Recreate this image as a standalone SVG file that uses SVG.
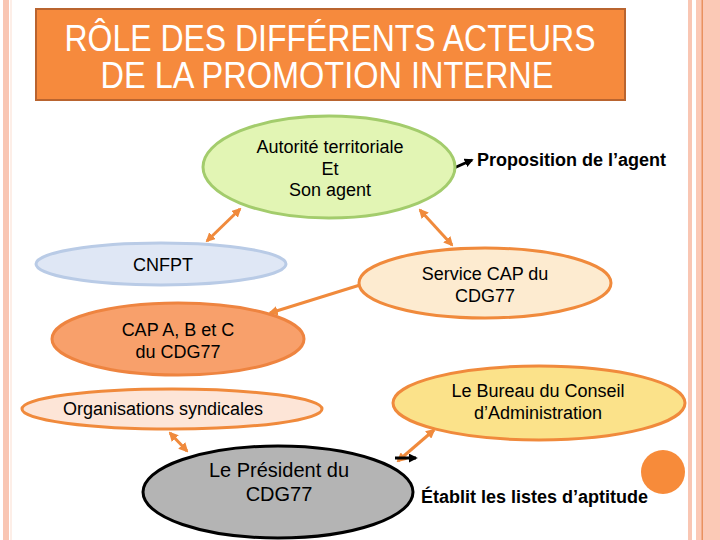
<svg xmlns="http://www.w3.org/2000/svg" width="720" height="540" viewBox="0 0 720 540">
  <style>
    .t { font-family: "Liberation Sans", Arial, sans-serif; font-size: 18px; fill: #000; text-anchor: middle; }
    .b { font-family: "Liberation Sans", Arial, sans-serif; font-size: 18px; font-weight: bold; fill: #000; }
    .title { font-family: "Liberation Sans", Arial, sans-serif; font-size: 36px; fill: #fff; text-anchor: middle; }
    .oc { stroke: #f08a3c; stroke-width: 3; fill: none; }
    .bc { stroke: #000; stroke-width: 3; fill: none; }
  </style>
  <defs>
    <marker id="ao" viewBox="0 0 10 10" refX="8" refY="5" markerWidth="3.2" markerHeight="3.2" orient="auto-start-reverse">
      <path d="M0,0 L10,5 L0,10 z" fill="#f08a3c"/>
    </marker>
    <marker id="ab" viewBox="0 0 10 10" refX="8" refY="5" markerWidth="3" markerHeight="3" orient="auto">
      <path d="M0,0 L10,5 L0,10 z" fill="#000"/>
    </marker>
  </defs>

  <rect x="0" y="0" width="720" height="540" fill="#fff"/>
  <!-- border stripes -->
  <rect x="3" y="0" width="6" height="540" fill="#f9c6b3"/>
  <rect x="10" y="0" width="2" height="540" fill="#fdeee7"/>
  <rect x="688" y="0" width="4" height="540" fill="#f9c6b3"/>
  <rect x="696" y="0" width="24" height="540" fill="#fbc9b6"/>
  <rect x="701.5" y="0" width="1.5" height="540" fill="#e9915f"/>

  <g id="title">
    <rect x="36" y="9" width="589" height="91" fill="#f68a3d" stroke="#b9642f" stroke-width="2"/>
    <text class="title" x="330" y="51" textLength="531" lengthAdjust="spacingAndGlyphs">RÔLE DES DIFFÉRENTS ACTEURS</text>
    <text class="title" x="327" y="88" textLength="453" lengthAdjust="spacingAndGlyphs">DE LA PROMOTION INTERNE</text>
  </g>

  <g id="connectors">
    <line class="oc" x1="240" y1="209" x2="207" y2="241" marker-start="url(#ao)" marker-end="url(#ao)"/>
    <line class="oc" x1="420" y1="210" x2="452" y2="245" marker-start="url(#ao)" marker-end="url(#ao)"/>
    <line class="oc" x1="360" y1="285" x2="270" y2="313" marker-end="url(#ao)"/>
    <line class="oc" x1="170" y1="433" x2="187" y2="451" marker-start="url(#ao)" marker-end="url(#ao)"/>
    <line class="oc" x1="398" y1="461" x2="434" y2="430" marker-start="url(#ao)" marker-end="url(#ao)"/>
    <line class="bc" x1="454" y1="168" x2="472" y2="160" marker-end="url(#ab)"/>
    <line class="bc" x1="395" y1="458" x2="416" y2="458" marker-end="url(#ab)"/>
  </g>

  <g id="autorite">
    <ellipse cx="329" cy="167" rx="126" ry="51" fill="#e2f5b4" stroke="#a3cc6c" stroke-width="3"/>
    <text class="t" x="330" y="153">Autorité territoriale</text>
    <text class="t" x="330" y="175">Et</text>
    <text class="t" x="330" y="196">Son agent</text>
  </g>

  <g id="proposition">
    <text class="b" x="477" y="166">Proposition de l’agent</text>
  </g>

  <g id="cnfpt">
    <ellipse cx="161" cy="264" rx="125" ry="21" fill="#dfe7f5" stroke="#b9cbe6" stroke-width="3"/>
    <text class="t" x="163" y="271">CNFPT</text>
  </g>

  <g id="service-cap">
    <ellipse cx="485" cy="283" rx="126" ry="35" fill="#fdebd0" stroke="#f08a3c" stroke-width="3"/>
    <text class="t" x="485" y="280">Service CAP du</text>
    <text class="t" x="485" y="302">CDG77</text>
  </g>

  <g id="cap-abc">
    <ellipse cx="178" cy="339" rx="126" ry="36" fill="#f8a06b" stroke="#ee8440" stroke-width="3"/>
    <text class="t" x="178" y="336">CAP A, B et C</text>
    <text class="t" x="178" y="358">du CDG77</text>
  </g>

  <g id="organisations">
    <ellipse cx="172" cy="409" rx="150" ry="20" fill="#fde5d7" stroke="#f08a3c" stroke-width="3"/>
    <text class="t" x="163" y="415">Organisations syndicales</text>
  </g>

  <g id="bureau">
    <ellipse cx="539" cy="403" rx="146" ry="37" fill="#fbe28a" stroke="#f08a3c" stroke-width="3"/>
    <text class="t" x="538" y="397">Le Bureau du Conseil</text>
    <text class="t" x="538" y="419">d’Administration</text>
  </g>

  <g id="president">
    <ellipse cx="278" cy="492" rx="135" ry="46" fill="#b4b4b4" stroke="#000" stroke-width="3"/>
    <text class="t" x="279" y="477" style="font-size:20px">Le Président du</text>
    <text class="t" x="279" y="501" style="font-size:20px">CDG77</text>
  </g>

  <g id="etablit">
    <text class="b" x="421" y="503">Établit les listes d’aptitude</text>
  </g>

  <circle cx="663" cy="472" r="22" fill="#f78b3a"/>
</svg>
